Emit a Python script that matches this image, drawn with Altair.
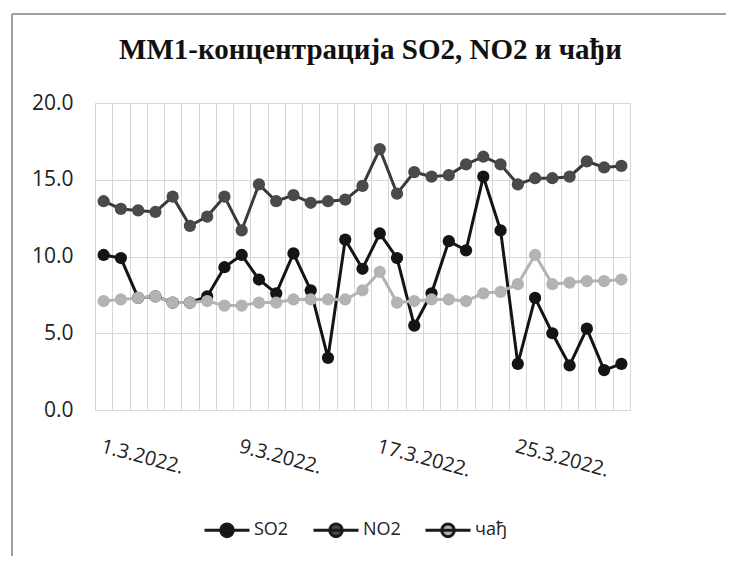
import altair as alt
import pandas as pd

dates = [f"{d}.3.2022." for d in range(1, 32)]
so2 = [10.1, 9.9, 7.3, 7.4, 7.0, 7.0, 7.4, 9.3, 10.1, 8.5, 7.6, 10.2, 7.8, 3.4, 11.1, 9.2,
       11.5, 9.9, 5.5, 7.6, 11.0, 10.4, 15.2, 11.7, 3.0, 7.3, 5.0, 2.9, 5.3, 2.6, 3.0]
no2 = [13.6, 13.1, 13.0, 12.9, 13.9, 12.0, 12.6, 13.9, 11.7, 14.7, 13.6, 14.0, 13.5, 13.6, 13.7, 14.6,
       17.0, 14.1, 15.5, 15.2, 15.3, 16.0, 16.5, 16.0, 14.7, 15.1, 15.1, 15.2, 16.2, 15.8, 15.9]
soot = [7.1, 7.2, 7.3, 7.4, 7.0, 7.0, 7.1, 6.8, 6.8, 7.0, 7.0, 7.2, 7.2, 7.2, 7.2, 7.8,
        9.0, 7.0, 7.1, 7.2, 7.2, 7.1, 7.6, 7.7, 8.2, 10.1, 8.2, 8.3, 8.4, 8.4, 8.5]
shown_dates = ["1.3.2022.", "9.3.2022.", "17.3.2022.", "25.3.2022."]
series_names = ["SO2", "NO2", "чађ"]
colors = ["#141414", "#3a3a3a", "#b3b3b3"]
marker_colors = ["#141414", "#4a4a4a", "#b3b3b3"]
title_text = "ММ1-концентрација SO2, NO2 и чађи"

rows = []
for name, vals in zip(series_names, (so2, no2, soot)):
    for d, v in zip(dates, vals):
        rows.append({"date": d, "series": name, "value": v})
df = pd.DataFrame(rows)

label_expr = "indexof(" + str(shown_dates) + ", datum.value) >= 0 ? datum.value : ''"

x = alt.X(
    "date:N", sort=dates,
    scale=alt.Scale(type="band", paddingInner=0, paddingOuter=0),
    axis=alt.Axis(title=None, tickBand="extent", ticks=False, domain=False, grid=True,
                  gridColor="#d6d6d6", labelExpr=label_expr, labelAngle=15, labelAlign="left",
                  labelBaseline="top", labelPadding=26, labelFont="Open Sans", labelFontSize=20,
                  labelColor="#222222", labelOverlap=False),
)
y = alt.Y(
    "value:Q", scale=alt.Scale(domain=[0, 20]),
    axis=alt.Axis(title=None, values=[0, 5, 10, 15, 20], format=".1f", ticks=False, domain=False,
                  labelPadding=22, labelFont="Open Sans", labelFontSize=21, labelColor="#222222",
                  gridColor="#d9d9d9"),
)
legend_symbol = "M-1,0H1M0.28,0A0.28,0.28 0 1 1 -0.28,0A0.28,0.28 0 1 1 0.28,0Z"
color = alt.Color(
    "series:N", sort=series_names,
    scale=alt.Scale(domain=series_names, range=marker_colors),
    legend=alt.Legend(title=None, orient="none", legendX=108, legendY=403, direction="horizontal",
                      symbolType=legend_symbol, symbolSize=2025, symbolStrokeWidth=3,
                      symbolStrokeColor="#1a1a1a",
                      labelFont="Open Sans", labelFontSize=18,
                      labelColor="#222222", columnPadding=18, labelOffset=3),
)

line_layers = [
    alt.Chart(df).transform_filter(alt.datum.series == name)
    .mark_line(strokeWidth=3, color=c).encode(x=x, y=y)
    for name, c in zip(series_names, colors)
]
points = alt.Chart(df).mark_circle(size=150, opacity=1).encode(x=x, y=y, color=color)

frame_data = alt.Data(values=[{"a": 1}])
frame_left = alt.Chart(frame_data).mark_rule(color="#a0a0a0", strokeWidth=2).encode(
    x=alt.value(-83), y=alt.value(-89), y2=alt.value(461))
frame_top = alt.Chart(frame_data).mark_rule(color="#a0a0a0", strokeWidth=2).encode(
    x=alt.value(-83), x2=alt.value(640), y=alt.value(-89))

chart = alt.layer(frame_left, frame_top, *line_layers, points).properties(
    width=535, height=307,
    title=alt.Title(title_text, font="Liberation Serif", fontSize=29, fontWeight="bold",
                    color="#111111", anchor="middle", frame="group", baseline="alphabetic",
                    offset=-75, dx=8),
    autosize=alt.AutoSizeParams(type="none"),
    padding={"left": 87, "top": 95, "right": 96, "bottom": 146},
).configure_view(stroke="#cccccc", strokeWidth=1).configure(background="white")

chart.save("out.html", embed_options={"renderer": "svg", "actions": False})
